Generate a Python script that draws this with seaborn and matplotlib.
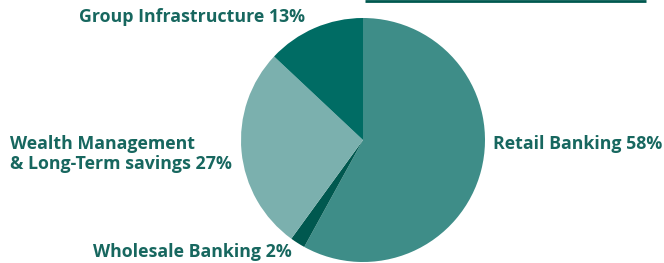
import matplotlib
matplotlib.use("Agg")
import matplotlib.pyplot as plt
import seaborn as sns

categories = ["Retail Banking", "Wholesale Banking", "Wealth Management\n& Long-Term savings", "Group Infrastructure"]
shares = [58, 2, 27, 13]
colors = ["#3e8d88", "#00584f", "#7bb0ae", "#006c64"]

sns.set_theme(style="white")
plt.rcParams["font.family"] = ["Open Sans", "DejaVu Sans"]

W, H = 664, 263
fig = plt.figure(figsize=(W / 100, H / 100), dpi=100)
ax = fig.add_axes([0, 0, 1, 1])
ax.set_xlim(0, W)
ax.set_ylim(0, H)
ax.axis("off")

cx, cy, r = 363, H - 140, 122
ax.pie(shares, colors=colors, startangle=90, counterclock=False,
       center=(cx, cy), radius=r, wedgeprops=dict(linewidth=0))
ax.set_xlim(0, W)
ax.set_ylim(0, H)
ax.set_aspect("equal")

tc = "#17675f"
fs = 12.8
labels = [f"{c} {s}%" for c, s in zip(categories, shares)]
ax.text(493, H - 144, labels[0], ha="left", va="center", color=tc, fontsize=fs, fontweight="bold")
ax.text(292, H - 252, labels[1], ha="right", va="center", color=tc, fontsize=fs, fontweight="bold")
ax.text(10, H - 154, labels[2], ha="left", va="center", color=tc, fontsize=fs, fontweight="bold", linespacing=1.15)
ax.text(305, H - 17, labels[3], ha="right", va="center", color=tc, fontsize=fs, fontweight="bold")

ax.plot([365, 646], [H - 1, H - 1], color="#00584f", linewidth=2, solid_capstyle="butt")

fig.savefig("out.png", dpi=100)
